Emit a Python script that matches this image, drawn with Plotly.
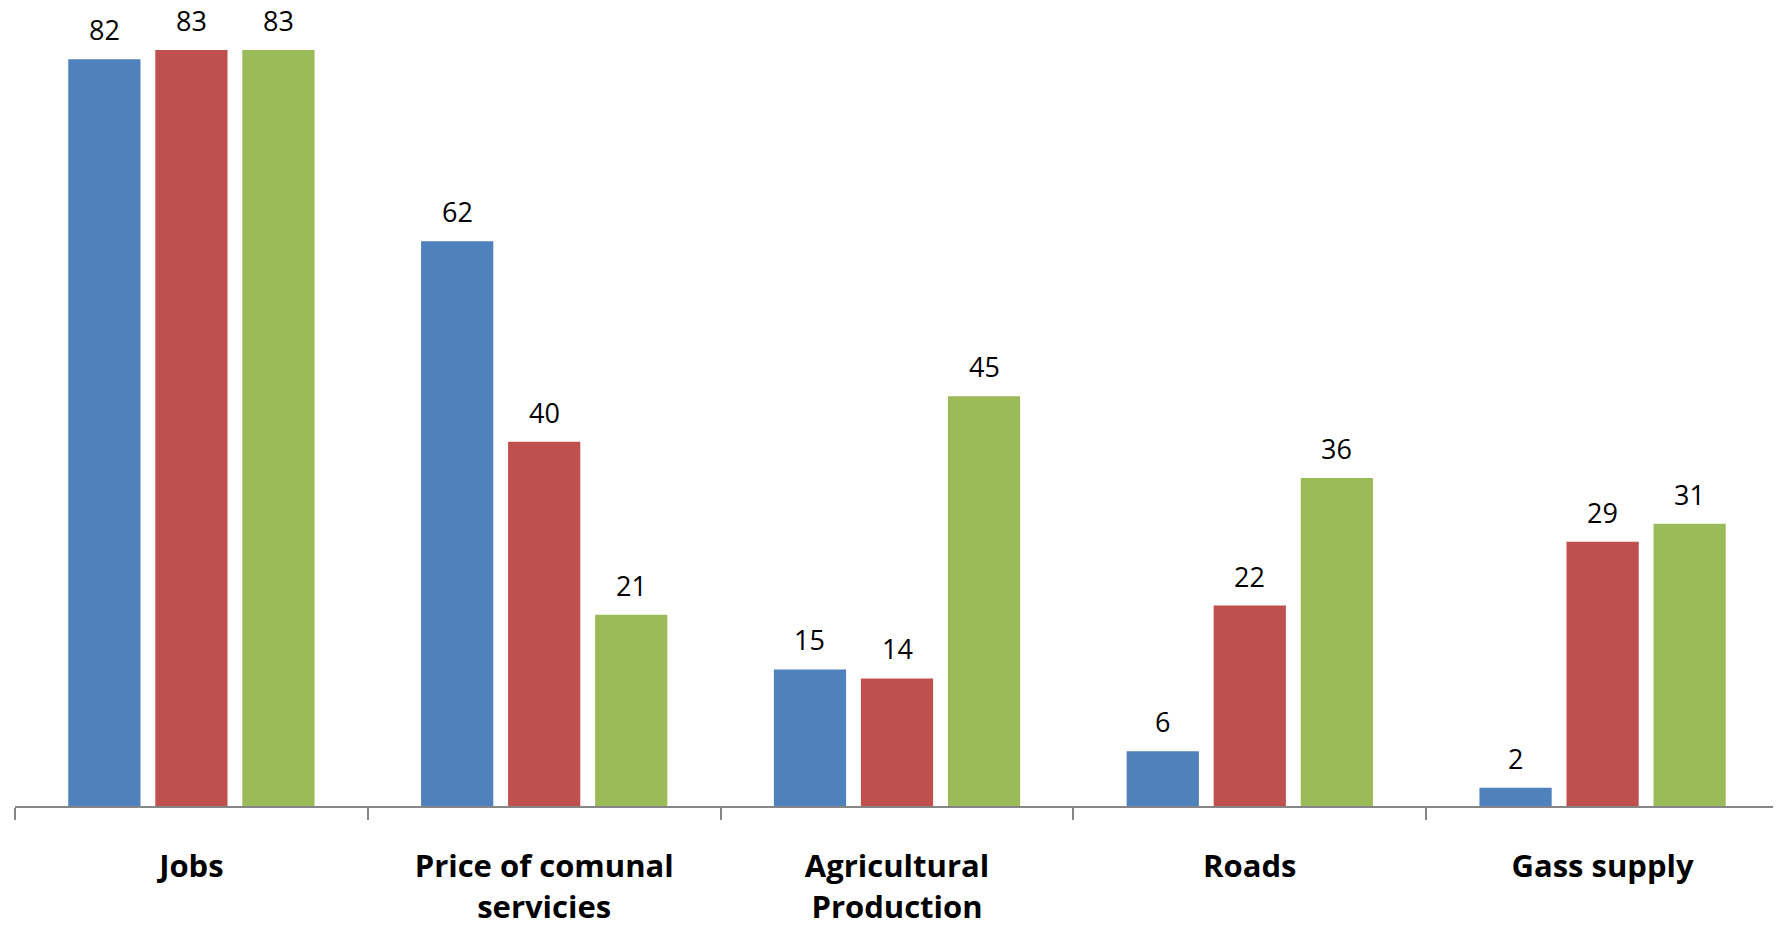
import plotly.graph_objects as go

# categories and the three series (no legend in the source chart)
categories = ["Jobs", "Price of comunal<br>servicies", "Agricultural<br>Production", "Roads", "Gass supply"]
series_a = [82, 62, 15, 6, 2]
series_b = [83, 40, 14, 22, 29]
series_c = [83, 21, 45, 36, 31]

colors = ["#4F81BD", "#C0504D", "#9BBB59"]
W, H = 1781, 928
margin = dict(l=7, r=10, t=22, b=130)
bargap = 0.26

fig = go.Figure()
for vals, col in zip([series_a, series_b, series_c], colors):
    fig.add_trace(go.Bar(x=categories, y=vals, marker=dict(color=col, line=dict(width=0)),
                         showlegend=False, hoverinfo="skip"))

# value labels above each bar, shifted to the matching bar in the group
cat_w = (W - margin["l"] - margin["r"]) / len(categories)
slot = cat_w * (1 - bargap) / 3
for i, vals in enumerate([series_a, series_b, series_c]):
    for c, v in zip(categories, vals):
        fig.add_annotation(x=c, y=v, text=str(v), showarrow=False, yanchor="bottom",
                           xshift=(i - 1) * slot, yshift=9,
                           font=dict(family="Open Sans", size=27, color="#000000"))

fig.update_layout(
    width=W, height=H, margin=margin,
    barmode="group", bargap=bargap, bargroupgap=0.17,
    plot_bgcolor="white", paper_bgcolor="white",
    font=dict(family="Open Sans", color="#000000"),
)
fig.update_xaxes(showline=True, linecolor="#868686", linewidth=2,
                 ticks="outside", tickson="boundaries", ticklen=12,
                 tickcolor="#868686", tickwidth=2, showgrid=False,
                 tickfont=dict(family="Open Sans", size=31, color="#000000", weight="bold"),
                 ticklabelstandoff=32)
fig.update_yaxes(visible=False, range=[0, 85.2], showgrid=False)

fig.write_html("out.html")
